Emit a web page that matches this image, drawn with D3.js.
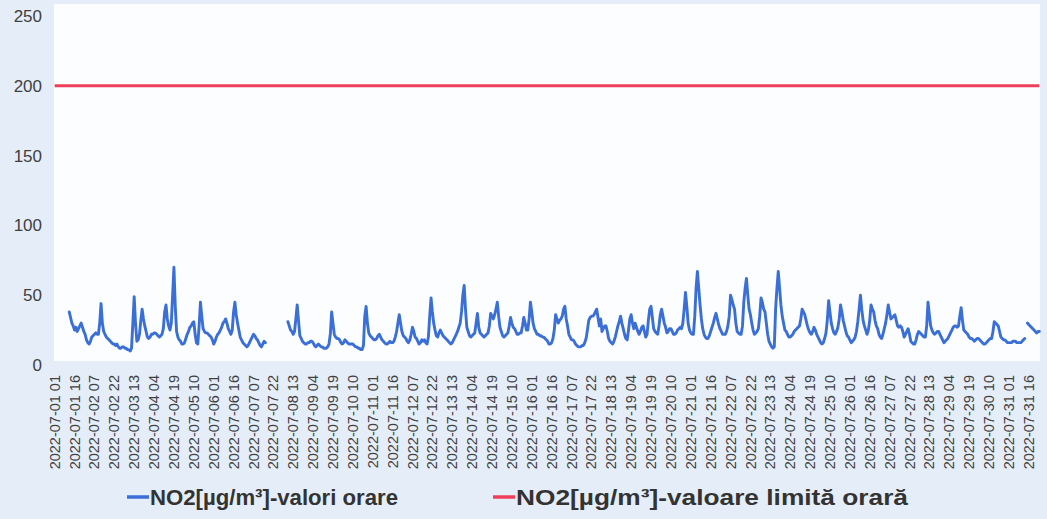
<!DOCTYPE html>
<html><head><meta charset="utf-8">
<script src="https://cdn.jsdelivr.net/npm/d3@7"></script>
<style>
html,body{margin:0;padding:0;background:#e5eef8;}
svg{display:block;}
text{font-family:"Liberation Sans",Arial,sans-serif;}
</style></head><body>
<svg id="chart" width="1047" height="519"></svg>
<script>
// ---- data ----
const firstHour = "2022-07-01 01";          // first category (hourly)
const hourCount = 744;
const tickLabels = [
 "2022-07-01 01","2022-07-01 16","2022-07-02 07","2022-07-02 22","2022-07-03 13",
 "2022-07-04 04","2022-07-04 19","2022-07-05 10","2022-07-06 01","2022-07-06 16",
 "2022-07-07 07","2022-07-07 22","2022-07-08 13","2022-07-09 04","2022-07-09 19",
 "2022-07-10 10","2022-07-11 01","2022-07-11 16","2022-07-12 07","2022-07-12 22",
 "2022-07-13 13","2022-07-14 04","2022-07-14 19","2022-07-15 10","2022-07-16 01",
 "2022-07-16 16","2022-07-17 07","2022-07-17 22","2022-07-18 13","2022-07-19 04",
 "2022-07-19 19","2022-07-20 10","2022-07-21 01","2022-07-21 16","2022-07-22 07",
 "2022-07-22 22","2022-07-23 13","2022-07-24 04","2022-07-24 19","2022-07-25 10",
 "2022-07-26 01","2022-07-26 16","2022-07-27 07","2022-07-27 22","2022-07-28 13",
 "2022-07-29 04","2022-07-29 19","2022-07-30 10","2022-07-31 01","2022-07-31 16"];
const yTicks = [0, 50, 100, 150, 200, 250];
const limitValue = 200;
const seriesNames = ["NO2[µg/m³]-valori orare", "NO2[µg/m³]-valoare limită orară"];
const no2Hourly = [
 null,null,null,null,null,null,null,null,null,null,null,38,34,30,28,25,27,24,26,28,30,27,24,22,
 18,16,15,17,20,21,22,23,22,22,30,44,30,24,22,20,19,18,17,16,15,15,14,15,
 13,12,12,13,13,12,12,11,11,10,12,30,49,30,17,18,22,32,40,33,28,24,20,19,
 20,22,22,23,23,22,21,20,21,22,26,38,43,33,28,25,30,50,70,42,24,20,18,17,
 15,15,16,19,22,24,27,28,30,31,22,16,15,28,45,35,26,24,23,23,22,21,20,18,
 15,17,20,22,23,25,27,30,31,33,30,26,24,22,25,38,45,36,30,25,20,18,16,15,
 14,13,14,16,18,20,22,21,19,18,16,14,13,15,17,16,null,null,null,null,null,null,null,null,
 null,null,null,null,null,null,null,null,31,28,25,24,22,24,33,43,32,21,19,17,16,15,15,16,
 16,17,17,16,14,13,14,15,14,13,13,12,12,12,13,15,22,38,30,22,20,19,19,18,
 16,15,16,18,17,16,15,15,15,15,14,13,13,12,12,11,11,14,35,42,30,23,21,20,
 19,18,18,19,21,22,20,18,17,16,15,15,16,17,16,16,17,20,24,30,36,30,24,21,
 20,19,17,16,18,22,27,24,20,19,17,15,16,18,17,18,16,15,20,35,48,38,30,25,
 21,20,23,25,23,21,20,19,18,17,16,15,16,18,20,22,24,27,30,38,50,57,40,27,
 24,21,20,21,22,23,30,37,27,23,22,21,20,21,22,23,28,37,35,33,36,40,45,35,
 27,24,21,20,21,22,23,28,34,30,27,26,24,22,22,23,23,28,34,30,25,25,33,45,
 38,30,26,24,22,22,21,21,20,20,19,18,17,15,15,16,19,25,36,33,30,32,33,35,
 40,42,33,28,22,20,18,18,17,15,14,13,13,13,14,14,16,19,25,32,34,35,35,36,
 38,40,34,28,33,24,26,28,28,24,19,17,16,15,17,20,24,28,31,35,30,26,22,19,
 18,25,33,36,30,26,30,27,24,22,24,27,28,24,20,22,32,40,42,34,26,24,23,22,
 28,36,40,35,30,27,23,24,26,26,24,22,22,23,25,26,27,26,30,40,52,42,30,25,
 23,22,22,35,55,67,55,43,33,26,22,20,19,19,21,24,27,30,34,37,33,29,26,24,
 22,22,22,24,28,35,50,47,43,40,30,24,23,22,22,28,45,55,62,50,40,36,30,25,
 22,23,24,26,35,48,45,40,38,30,22,17,15,13,12,13,40,55,67,55,43,35,30,25,
 24,22,20,20,21,22,24,25,26,27,28,33,40,38,36,32,28,25,23,22,24,27,25,22,
 20,18,16,15,16,19,23,32,46,38,30,26,23,22,24,27,33,43,38,32,28,24,21,20,
 18,16,17,18,20,24,31,40,50,40,32,28,25,22,25,32,43,40,38,32,28,26,22,20,
 19,22,26,30,36,43,38,33,34,35,36,32,28,27,28,27,24,20,22,24,26,22,17,16,
 15,15,18,22,24,23,22,21,20,20,28,45,36,28,25,23,22,23,24,24,22,20,18,16,
 17,18,19,21,23,25,27,28,28,27,28,35,41,32,25,24,23,22,20,19,19,18,17,18,
 19,19,18,17,16,15,15,16,17,18,19,19,24,31,30,29,28,24,20,19,18,18,17,16,
 16,16,16,17,17,17,16,16,16,16,17,18,19,null,30,29,28,27,26,25,24,23,24,24
];
const colors = ["#3b6fd8", "#ee3f5a"];

// ---- categories (hourly timestamps) ----
const parse = d3.timeParse("%Y-%m-%d %H"), fmt = d3.timeFormat("%Y-%m-%d %H");
const t0 = parse(firstHour);
const categories = d3.range(hourCount).map(i => fmt(d3.timeHour.offset(t0, i)));

// ---- layout ----
const svg = d3.select("#chart");
const plot = {left: 54, right: 1040, top: 4, bottom: 365};

svg.append("rect").attr("x", plot.left).attr("y", plot.top)
  .attr("width", plot.right - plot.left).attr("height", 361 - plot.top)
  .attr("fill", "#fcfdff");

const x = d3.scaleBand().domain(categories).range([plot.left, plot.right]).padding(0);
const cx = c => x(c) + x.bandwidth() / 2;
const y = d3.scaleLinear().domain([0, 250]).range([plot.bottom, 16]);

// y labels
svg.append("g").attr("transform", `translate(42,0)`)
  .call(d3.axisLeft(y).tickValues(yTicks).tickSize(0).tickPadding(0))
  .call(g => g.select(".domain").remove())
  .call(g => g.selectAll("text").attr("fill", "#404040").style("font-size", "17px")
     .style("font-family", "Liberation Sans, Arial, sans-serif"));

// x labels
svg.append("g").attr("transform", `translate(0,${plot.bottom})`)
  .call(d3.axisBottom(x).tickValues(tickLabels).tickSize(0))
  .call(g => g.select(".domain").remove())
  .call(g => g.selectAll("text")
     .attr("transform", "rotate(-90)").attr("x", -10).attr("y", 0).attr("dy", "0.35em")
     .style("text-anchor", "end").attr("fill", "#404040").style("font-size", "14.5px")
     .style("font-family", "Liberation Sans, Arial, sans-serif"));

// limit line (hourly limit value over all categories)
svg.append("line")
  .attr("x1", cx(categories[0])).attr("x2", cx(categories[categories.length - 1]))
  .attr("y1", y(limitValue)).attr("y2", y(limitValue))
  .attr("stroke", colors[1]).attr("stroke-width", 3);

// hourly NO2
const line = d3.line().defined(d => d != null)
  .x((d, i) => cx(categories[i])).y(d => y(d));
svg.append("path").datum(no2Hourly).attr("d", line)
  .attr("fill", "none").attr("stroke", colors[0]).attr("stroke-width", 2.9)
  .attr("stroke-linejoin", "round").attr("stroke-linecap", "round");

// legend
const legendItems = [{x: 127, name: seriesNames[0], color: colors[0], w: 248},
                     {x: 493, name: seriesNames[1], color: colors[1], w: 392}];
const lg = svg.append("g").attr("transform", "translate(0,497)");
legendItems.forEach(it => {
  lg.append("line").attr("x1", it.x).attr("x2", it.x + 22).attr("y1", 0).attr("y2", 0)
    .attr("stroke", it.color).attr("stroke-width", 3.5);
  lg.append("text").attr("x", it.x + 23).attr("y", 0).attr("dy", "0.35em")
    .attr("fill", "#333").style("font-size", "22px").style("font-weight", "bold")
    .attr("textLength", it.w).attr("lengthAdjust", "spacingAndGlyphs")
    .text(it.name);
});
</script>
</body></html>
